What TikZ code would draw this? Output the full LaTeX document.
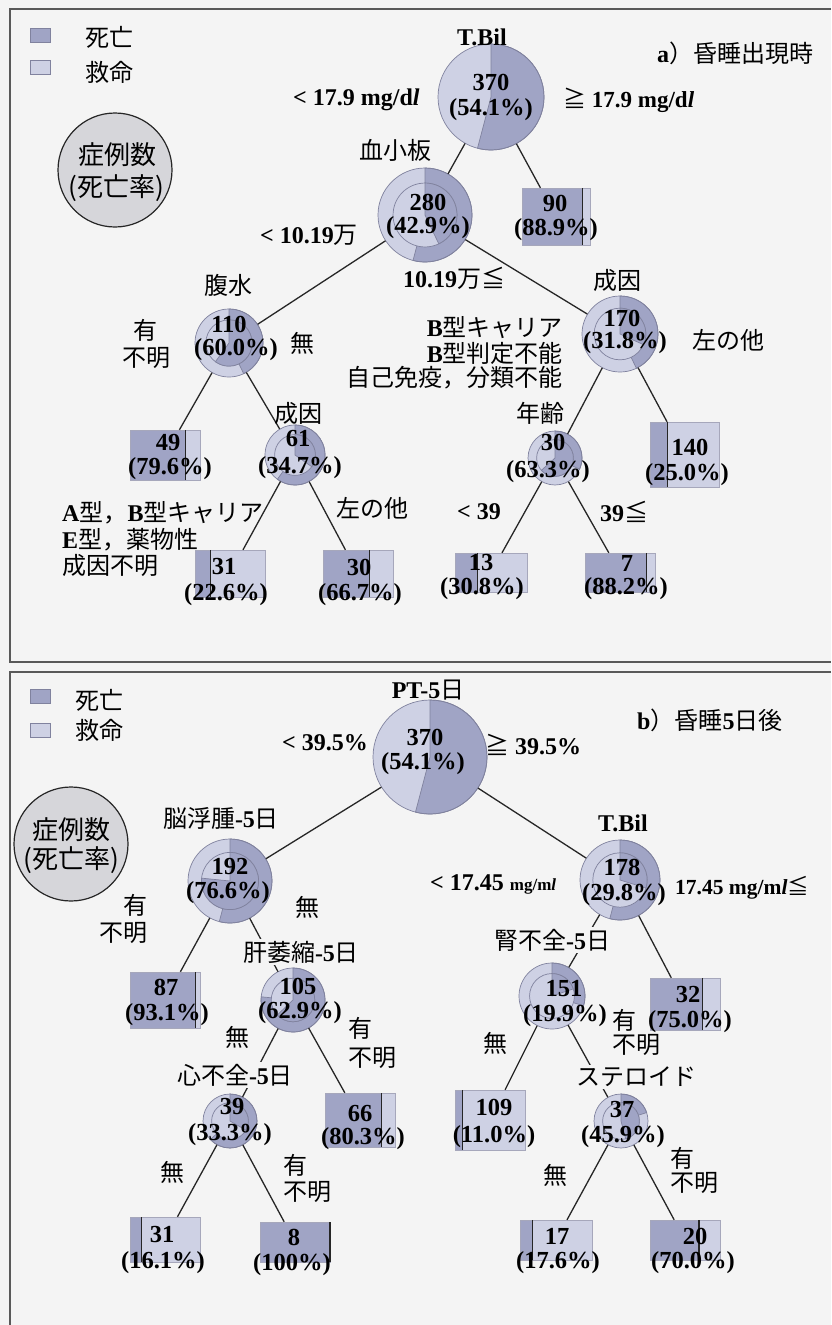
\documentclass[tikz,border=0pt]{standalone}
\usepackage{fontspec}
\setmainfont{Liberation Serif}
\newfontfamily\jp{Noto Sans CJK JP}
\usetikzlibrary{fit}
\definecolor{darkc}{RGB}{160,164,197}
\definecolor{lightc}{RGB}{206,209,228}
\definecolor{bgc}{RGB}{244,244,244}
\definecolor{edgec}{RGB}{128,130,158}
\definecolor{legc}{RGB}{214,214,218}
\newcommand\J[1]{{\jp\mdseries #1}}
\newcommand\PieNode[6]{%
  \fill[lightc] (#2,-#3) circle (#4);
  \ifdim #6pt>0pt
    \filldraw[fill=darkc,pieline] (#2,-#3) -- ++(0,#4) arc[start angle=90, delta angle={-360*#6}, radius=#4] -- cycle;
    \pgfmathsetmacro\ri{0.68*#4}%
    \filldraw[fill=lightc,pieline] (#2,-#3) circle (\ri);
    \filldraw[fill=darkc,pieline] (#2,-#3) -- ++(0,\ri) arc[start angle=90, delta angle={-360*#5}, radius=\ri] -- cycle;
  \else
    \filldraw[fill=darkc,pieline] (#2,-#3) -- ++(0,#4) arc[start angle=90, delta angle={-360*#5}, radius=#4] -- cycle;
  \fi
  \draw[pieline] (#2,-#3) circle (#4);
  \node[circle, inner sep=0, minimum size={2*#4*1pt}] (#1) at (#2,-#3) {};
}
\newcommand\BoxNode[6]{%
  \pgfmathsetmacro\bxm{#2+#6*(#4-#2)}%
  \fill[lightc] (#2,-#3) rectangle (#4,-#5);
  \fill[darkc] (#2,-#3) rectangle (\bxm,-#5);
  \draw[boxline] (#2,-#3) rectangle (#4,-#5);
  \draw[divline] (\bxm,-#3) -- (\bxm,-#5);
  \node[fit={(#2,-#3) (#4,-#5)}, inner sep=0] (#1) {};
}
\begin{document}
\begin{tikzpicture}[x=1pt,y=1pt,
  conn/.style={line width=1.3pt, black!85},
  pieline/.style={draw=edgec, line width=0.7pt},
  boxline/.style={draw=edgec!70, line width=0.7pt},
  divline/.style={draw=black!85, line width=1.3pt},
  frame/.style={draw=black!65, line width=1.1pt},
  num/.style={inner sep=0, font=\fontsize{24.5}{28}\selectfont\bfseries},
  lat/.style={inner sep=0, font=\fontsize{24}{28}\selectfont\bfseries},
  jl/.style={inner sep=0, font=\jp\fontsize{24}{28}\selectfont},
  jll/.style={inner sep=0, font=\jp\fontsize{26}{28}\selectfont},
  jlw/.style={jl, fill=bgc, inner sep=2pt},
  legsq/.style={draw=edgec, line width=0.6pt, minimum width=20, minimum height=14, inner sep=0},
  legcirc/.style={circle, draw=black!85, line width=1.2pt, fill=legc, minimum size=114, inner sep=0}]
\fill[bgc] (0,0) rectangle (831,-1325);
\useasboundingbox (0,0) rectangle (831,-1325);
% frames
\draw[frame] (831,-9) -- (10,-9) -- (10,-662) -- (831,-662);
\draw[frame] (831,-672) -- (10,-672) -- (10,-1325);

% ================= panel a =================
\node[legsq, fill=darkc] (LAd) at (40,-35) {};
\node[legsq, fill=lightc] (LAl) at (40,-67) {};
\node[jl, anchor=west] (LAdt) at (85,-37) {死亡};
\node[jl, anchor=west] (LAlt) at (85,-72) {救命};
\node[legcirc] (LAc) at (115,-170) {};
\node[jll] (LAc1) at (117,-155) {症例数};
\node[jll] (LAc2) at (116,-188) {(死亡率)};
\node[jl, anchor=west] (TA) at (657,-53) {\bfseries\rmfamily a\J{）昏睡出現時}};

\PieNode{A0}{491}{97}{53}{0.541}{0}
\PieNode{A280}{425}{215}{47}{0.429}{0.541}
\BoxNode{A90}{522}{188}{590}{245}{0.889}
\PieNode{A110}{229}{343}{34}{0.600}{0.429}
\PieNode{A170}{620}{334}{38}{0.318}{0.429}
\BoxNode{A49}{130}{430}{200}{480}{0.796}
\PieNode{A61}{295}{455}{30}{0.347}{0.600}
\PieNode{A30}{555}{458}{27}{0.633}{0.318}
\BoxNode{A140}{650}{422}{719}{487}{0.25}
\BoxNode{A31}{195}{550}{265}{597}{0.226}
\BoxNode{A30b}{323}{550}{393}{597}{0.667}
\BoxNode{A13}{455}{553}{527}{592}{0.308}
\BoxNode{A7}{585}{553}{655}{592}{0.882}

\draw[conn] (A0) -- (A280);
\draw[conn] (A0) -- (A90);
\draw[conn] (A280) -- (A110);
\draw[conn] (A280) -- (A170);
\draw[conn] (A110) -- (A49);
\draw[conn] (A110) -- (A61);
\draw[conn] (A170) -- (A30);
\draw[conn] (A170) -- (A140);
\draw[conn] (A61) -- (A31);
\draw[conn] (A61) -- (A30b);
\draw[conn] (A30) -- (A13);
\draw[conn] (A30) -- (A7);

\node[num] (nA0a) at (491,-82) {370};
\node[num] (nA0b) at (491,-110) {(54.1\%)};
\node[num] (nA280a) at (428,-202) {280};
\node[num] (nA280b) at (428,-228) {(42.9\%)};
\node[num] (nA90a) at (555,-203) {90};
\node[num] (nA90b) at (556,-230) {(88.9\%)};
\node[num] (nA110a) at (229,-324) {110};
\node[num] (nA110b) at (236,-350) {(60.0\%)};
\node[num] (nA170a) at (622,-318) {170};
\node[num] (nA170b) at (625,-343) {(31.8\%)};
\node[num] (nA49a) at (168,-443) {49};
\node[num] (nA49b) at (170,-469) {(79.6\%)};
\node[num] (nA61a) at (298,-439) {61};
\node[num] (nA61b) at (300,-468) {(34.7\%)};
\node[num] (nA30a) at (553,-442) {30};
\node[num] (nA30b) at (548,-472) {(63.3\%)};
\node[num] (nA140a) at (690,-447) {140};
\node[num] (nA140b) at (687,-475) {(25.0\%)};
\node[num] (nA31a) at (224,-567) {31};
\node[num] (nA31b) at (226,-595) {(22.6\%)};
\node[num] (nA30ba) at (359,-567) {30};
\node[num] (nA30bb) at (360,-595) {(66.7\%)};
\node[num] (nA13a) at (481,-563) {13};
\node[num] (nA13b) at (482,-589) {(30.8\%)};
\node[num] (nA7a) at (627,-563) {7};
\node[num] (nA7b) at (626,-589) {(88.2\%)};

\node[lat] (tA0) at (482,-37) {T.Bil};
\node[jl] (tA280) at (395,-150) {血小板};
\node[jl] (tA110) at (228,-285) {腹水};
\node[jl] (tA170) at (617,-280) {成因};
\node[jl] (tA61) at (298,-413) {成因};
\node[jl, anchor=east] (tA30) at (565,-413) {年齢};

\node[lat, anchor=west] (eA1) at (293,-100) {< 17.9 mg/d\textit{l}};
\node[lat, anchor=west, font=\fontsize{23}{28}\selectfont\bfseries] (eA2) at (563,-100) {\J{≧} 17.9 mg/d\textit{l}};
\node[lat, anchor=west] (eA3) at (260,-235) {< 10.19\J{万}};
\node[lat, anchor=west] (eA4) at (403,-278) {10.19\J{万≦}};
\node[jl] (eA5) at (145,-330) {有};
\node[jl] (eA6) at (146,-358) {不明};
\node[jl] (eA7) at (302,-343) {無};
\node[jl, anchor=east] (eA8) at (563,-328) {\bfseries\rmfamily B\J{型キャリア}};
\node[jl, anchor=east] (eA9) at (563,-353) {\bfseries\rmfamily B\J{型判定不能}};
\node[jl, anchor=east] (eA10) at (563,-378) {自己免疫，分類不能};
\node[jl] (eA11) at (728,-340) {左の他};
\node[jl, anchor=west] (eA12) at (62,-513) {\bfseries\rmfamily A\J{型，}B\J{型キャリア}};
\node[jl, anchor=west] (eA13) at (62,-540) {\bfseries\rmfamily E\J{型，薬物性}};
\node[jl, anchor=west] (eA14) at (62,-565) {成因不明};
\node[jl] (eA15) at (372,-508) {左の他};
\node[lat, anchor=west] (eA16) at (457,-512) {< 39};
\node[lat, anchor=west] (eA17) at (600,-512) {39\J{≦}};

% ================= panel b =================
\node[legsq, fill=darkc] (LBd) at (40,-696) {};
\node[legsq, fill=lightc] (LBl) at (40,-730) {};
\node[jl, anchor=west] (LBdt) at (75,-700) {死亡};
\node[jl, anchor=west] (LBlt) at (75,-730) {救命};
\node[legcirc] (LBc) at (71,-844) {};
\node[jll] (LBc1) at (71,-830) {症例数};
\node[jll] (LBc2) at (71,-860) {(死亡率)};
\node[jl, anchor=west] (TB) at (637,-720) {\bfseries\rmfamily b\J{）昏睡}5\J{日後}};

\PieNode{B0}{430}{757}{57}{0.541}{0}
\PieNode{B192}{230}{881}{42}{0.766}{0.541}
\PieNode{B178}{620}{880}{40}{0.298}{0.541}
\BoxNode{B87}{130}{972}{200}{1028}{0.931}
\PieNode{B105}{293}{1000}{32}{0.629}{0.766}
\PieNode{B151}{552}{996}{33}{0.199}{0.298}
\BoxNode{B32}{650}{978}{720}{1030}{0.75}
\PieNode{B39}{230}{1121}{27}{0.333}{0.629}
\BoxNode{B66}{325}{1093}{395}{1147}{0.803}
\BoxNode{B109}{455}{1090}{525}{1150}{0.11}
\PieNode{B37}{621}{1121}{27}{0.459}{0.199}
\BoxNode{B31}{130}{1217}{200}{1262}{0.161}
\BoxNode{B8}{260}{1222}{330}{1262}{1.0}
\BoxNode{B17}{520}{1220}{592}{1260}{0.176}
\BoxNode{B20}{650}{1220}{720}{1260}{0.70}

\draw[conn] (B0) -- (B192);
\draw[conn] (B0) -- (B178);
\draw[conn] (B192) -- (B87);
\draw[conn] (B192) -- (B105);
\draw[conn] (B178) -- (B151);
\draw[conn] (B178) -- (B32);
\draw[conn] (B105) -- (B39);
\draw[conn] (B105) -- (B66);
\draw[conn] (B151) -- (B109);
\draw[conn] (B151) -- (B37);
\draw[conn] (B39) -- (B31);
\draw[conn] (B39) -- (B8);
\draw[conn] (B37) -- (B17);
\draw[conn] (B37) -- (B20);

\node[num] (nB0a) at (425,-737) {370};
\node[num] (nB0b) at (423,-764) {(54.1\%)};
\node[num] (nB192a) at (230,-866) {192};
\node[num] (nB192b) at (228,-893) {(76.6\%)};
\node[num] (nB178a) at (622,-867) {178};
\node[num] (nB178b) at (624,-895) {(29.8\%)};
\node[num] (nB87a) at (166,-987) {87};
\node[num] (nB87b) at (167,-1015) {(93.1\%)};
\node[num] (nB105a) at (298,-986) {105};
\node[num] (nB105b) at (300,-1013) {(62.9\%)};
\node[num] (nB151a) at (564,-989) {151};
\node[num] (nB151b) at (565,-1016) {(19.9\%)};
\node[num] (nB32a) at (688,-994) {32};
\node[num] (nB32b) at (690,-1022) {(75.0\%)};
\node[num] (nB39a) at (232,-1106) {39};
\node[num] (nB39b) at (230,-1135) {(33.3\%)};
\node[num] (nB66a) at (360,-1113) {66};
\node[num] (nB66b) at (363,-1139) {(80.3\%)};
\node[num] (nB109a) at (494,-1107) {109};
\node[num] (nB109b) at (494,-1137) {(11.0\%)};
\node[num] (nB37a) at (622,-1109) {37};
\node[num] (nB37b) at (623,-1137) {(45.9\%)};
\node[num] (nB31a) at (162,-1234) {31};
\node[num] (nB31b) at (163,-1263) {(16.1\%)};
\node[num] (nB8a) at (294,-1237) {8};
\node[num] (nB8b) at (292,-1265) {(100\%)};
\node[num] (nB17a) at (557,-1236) {17};
\node[num] (nB17b) at (558,-1263) {(17.6\%)};
\node[num] (nB20a) at (695,-1236) {20};
\node[num] (nB20b) at (693,-1263) {(70.0\%)};

\node[lat] (tB0) at (428,-690) {PT-5\J{日}};
\node[jl] (tB192) at (221,-818) {脳浮腫\textbf{\rmfamily -5}日};
\node[lat] (tB178) at (623,-823) {T.Bil};
\node[jlw] (tB105) at (301,-952) {肝萎縮\textbf{\rmfamily -5}日};
\node[jlw] (tB151) at (552,-940) {腎不全\textbf{\rmfamily -5}日};
\node[jlw] (tB39) at (235,-1075) {心不全\textbf{\rmfamily -5}日};
\node[jlw] (tB37) at (636,-1077) {ステロイド};

\node[lat, anchor=west] (eB1) at (282,-743) {< 39.5\%};
\node[lat, anchor=west] (eB2) at (485,-745) {\J{≧} 39.5\%};
\node[jl, anchor=east] (eB3) at (148,-905) {有};
\node[jl, anchor=east] (eB4) at (148,-933) {不明};
\node[jl] (eB5) at (307,-907) {無};
\node[lat, anchor=west] (eB6) at (430,-884) {< 17.45 {\fontsize{17}{20}\selectfont mg/m\textit{l}}};
\node[lat, anchor=west, font=\fontsize{21.5}{26}\selectfont\bfseries] (eB7) at (675,-888) {17.45 mg/m\textit{l}\J{≦}};
\node[jl] (eB8) at (237,-1037) {無};
\node[jl, anchor=west] (eB9) at (348,-1028) {有};
\node[jl, anchor=west] (eB10) at (348,-1058) {不明};
\node[jl] (eB11) at (495,-1043) {無};
\node[jl, anchor=west] (eB12) at (612,-1020) {有};
\node[jl, anchor=west] (eB13) at (612,-1045) {不明};
\node[jl] (eB14) at (172,-1172) {無};
\node[jl, anchor=west] (eB15) at (283,-1165) {有};
\node[jl, anchor=west] (eB16) at (283,-1192) {不明};
\node[jl] (eB17) at (555,-1175) {無};
\node[jl, anchor=west] (eB18) at (670,-1158) {有};
\node[jl, anchor=west] (eB19) at (670,-1183) {不明};
\end{tikzpicture}
\end{document}
